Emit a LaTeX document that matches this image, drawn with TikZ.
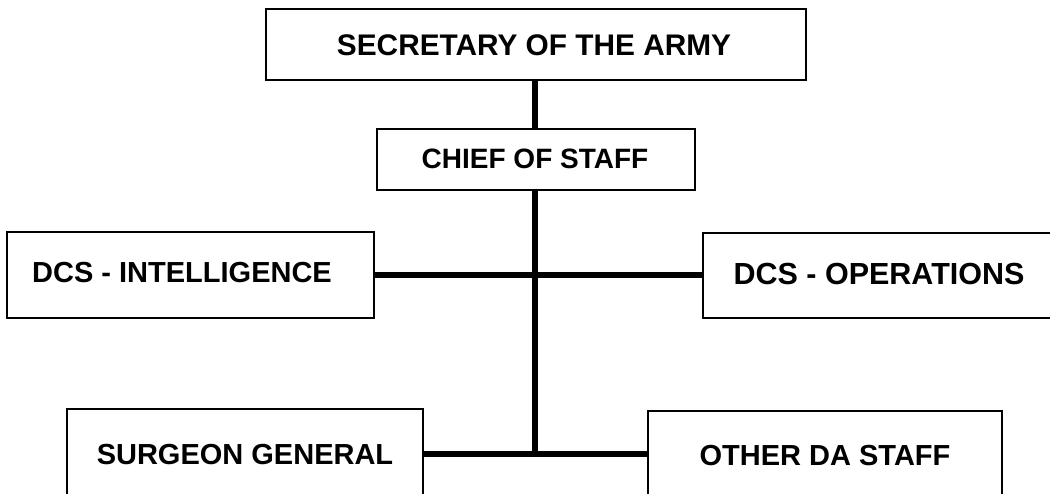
\documentclass[tikz,border=0pt]{standalone}
\usepackage{fontspec}
\setmainfont{Liberation Sans}
\begin{document}
\begin{tikzpicture}[x=1pt,y=-1pt,
  box/.style={draw=black,line width=2.8pt,rectangle,inner sep=0pt,outer sep=0pt},
  lbl/.style={inner sep=0pt,font=\fontsize{29}{32}\selectfont\bfseries,anchor=center},
  link/.style={draw=black,line width=6pt}]
\clip (0,0) rectangle (1050,494);
\fill[white] (0,0) rectangle (1050,494);
% boxes
\node[box,minimum width=540pt,minimum height=71pt] (sec) at (536,44.5) {};
\node[box,minimum width=318pt,minimum height=61pt] (cos) at (536,159.5) {};
\node[box,minimum width=367pt,minimum height=86pt] (intel) at (190.5,275) {};
\node[box,minimum width=367pt,minimum height=85pt] (ops) at (886.5,275.5) {};
\node[box,minimum width=356pt,minimum height=110pt] (surg) at (245,464) {};
\node[box,minimum width=354pt,minimum height=110pt] (other) at (825,466) {};
% texts
\node[lbl,font=\fontsize{29.8}{32}\selectfont\bfseries] (secT) at (534,45) {SECRETARY OF THE ARMY};
\node[lbl,font=\fontsize{28}{32}\selectfont\bfseries] (cosT) at (535,159) {CHIEF OF STAFF};
\node[lbl] (intelT) at (182,273) {DCS - INTELLIGENCE};
\node[lbl,font=\fontsize{30.5}{32}\selectfont\bfseries] (opsT) at (879,274) {DCS - OPERATIONS};
\node[lbl] (surgT) at (245,455) {SURGEON GENERAL};
\node[lbl] (otherT) at (825,456) {OTHER DA STAFF};
% junctions
\coordinate (j1) at (535,275);
\coordinate (j2) at (535,454);
% connectors
\draw[link] (sec.south -| j1) -- (cos.north -| j1);
\draw[link] (cos.south -| j1) -- (j2);
\draw[link] (intel.east |- j1) -- (ops.west |- j1);
\draw[link] (surg.east |- j2) -- (other.west |- j2);
\end{tikzpicture}
\end{document}
